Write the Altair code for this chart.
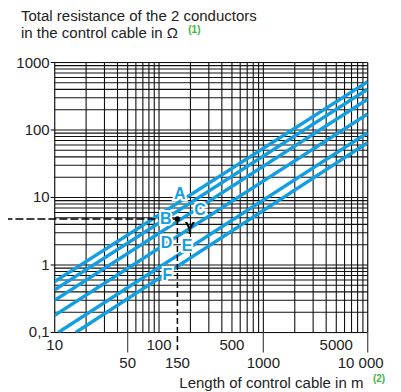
import altair as alt
import pandas as pd

# ---------------- data ----------------
curve_names = ["A", "B", "C", "D", "E", "F"]
start_length_m = [10, 10, 10, 10, 10.8, 15.9]
start_res_ohm = [0.57, 0.43, 0.30, 0.18, 0.1, 0.1]
end_length_m = [10000, 10000, 10000, 10000, 10000, 10000]
end_res_ohm = [520, 401, 285, 173, 91, 65]

label_length_m = [158, 116, 247, 118, 186, 120]
label_res_ohm = [11.3, 4.8, 6.5, 2.1, 1.92, 0.71]

point_length_m = [150]
point_res_ohm = [4.8]
point_name = ["Y"]
point_label_length_m = [197]
point_label_res_ohm = [3.4]

grid_x = [10, 20, 30, 40, 50, 60, 70, 80, 90,
          100, 200, 300, 400, 500, 600, 700, 800, 900,
          1000, 2000, 3000, 4000, 5000, 6000, 7000, 8000, 9000, 10000]
grid_y = [0.1, 0.2, 0.3, 0.4, 0.5, 0.6, 0.7, 0.8, 0.9,
          1, 2, 3, 4, 5, 6, 7, 8, 9,
          10, 20, 30, 40, 50, 60, 70, 80, 90,
          100, 200, 300, 400, 500, 600, 700, 800, 900, 1000]

x_row1_values = [10, 100, 500, 5000]
x_row1_labels = ["10", "100", "500", "5000"]
x_row2_values = [50, 150, 1000]
x_row2_labels = ["50", "150", "1000"]
x_last_value = [10000]
x_last_label = ["10 000"]
long_tick_values = [50, 1000, 10000]

y_tick_values = [0.1, 1, 10, 100, 1000]
y_tick_labels = ["0,1", "1", "10", "100", "1000"]

# ---------------- styling ----------------
W, H = 313, 270
BLUE = "#129fe1"
GREEN = "#3db53d"
TXT = "#222222"
FONT = "Liberation Sans"

xs = alt.Scale(type="log", domain=[10, 10000], nice=False)
ys = alt.Scale(type="log", domain=[0.1, 1000], nice=False)

rows = []
for n, l0, r0, l1, r1 in zip(curve_names, start_length_m, start_res_ohm, end_length_m, end_res_ohm):
    rows.append({"name": n, "L": l0, "R": r0, "o": 0})
    rows.append({"name": n, "L": l1, "R": r1, "o": 1})
lines_df = pd.DataFrame(rows)
labels_df = pd.DataFrame({"name": curve_names, "L": label_length_m, "R": label_res_ohm})
point_df = pd.DataFrame({"name": point_name, "L": point_length_m, "R": point_res_ohm})
point_lab_df = pd.DataFrame({"name": point_name, "L": point_label_length_m, "R": point_label_res_ohm})


def X(f="L"):
    return alt.X(f + ":Q", scale=xs, axis=None)


def Y(f="R"):
    return alt.Y(f + ":Q", scale=ys, axis=None)


vgrid = alt.Chart(pd.DataFrame({"L": grid_x})).mark_rule(color="#111111", strokeWidth=1.1).encode(
    x=X(), y=alt.value(0), y2=alt.value(H))
hgrid = alt.Chart(pd.DataFrame({"R": grid_y})).mark_rule(color="#111111", strokeWidth=1.1).encode(
    y=Y(), x=alt.value(0), x2=alt.value(W))

ytick_df = pd.DataFrame({"R": y_tick_values, "t": y_tick_labels})
yticks = alt.Chart(ytick_df).mark_rule(color="black", strokeWidth=1).encode(
    y=Y(), x=alt.value(-4), x2=alt.value(0))
ylabels = alt.Chart(ytick_df).mark_text(align="right", baseline="middle", font=FONT,
                                         fontSize=15, color=TXT, dx=-5).encode(
    y=Y(), x=alt.value(0), text="t:N")

xrow1 = alt.Chart(pd.DataFrame({"L": x_row1_values, "t": x_row1_labels})).mark_text(
    align="center", baseline="middle", font=FONT, fontSize=15, color=TXT).encode(
    x=X(), y=alt.value(282.5), text="t:N")
xrow2 = alt.Chart(pd.DataFrame({"L": x_row2_values, "t": x_row2_labels})).mark_text(
    align="center", baseline="middle", font=FONT, fontSize=15, color=TXT).encode(
    x=X(), y=alt.value(300.8), text="t:N")
xlast = alt.Chart(pd.DataFrame({"L": x_last_value, "t": x_last_label})).mark_text(
    align="center", baseline="middle", font=FONT, fontSize=15, color=TXT, dx=-7).encode(
    x=X(), y=alt.value(300.8), text="t:N")
longticks = alt.Chart(pd.DataFrame({"L": long_tick_values})).mark_rule(color="#555555", strokeWidth=1.3).encode(
    x=X(), y=alt.value(H), y2=alt.value(H + 20))

curves = alt.Chart(lines_df).mark_line(color=BLUE, strokeWidth=3.4, strokeCap="butt", clip=True).encode(
    x=X(), y=Y(), detail="name:N", order="o:Q")

hdash = alt.Chart(point_df).mark_rule(color="black", strokeWidth=1.5, strokeDash=[8, 3]).encode(
    x=X(), x2=alt.value(-52.7), y=Y())
vdash = alt.Chart(point_df).mark_rule(color="black", strokeWidth=1.5, strokeDash=[6, 3]).encode(
    x=X(), y=Y(), y2=alt.value(287.5))
pt = alt.Chart(point_df).mark_point(filled=True, color="black", size=28, opacity=1).encode(x=X(), y=Y())

lab_halo = alt.Chart(labels_df).mark_text(font=FONT, fontSize=16, fontWeight="bold", color="white",
                                          stroke="white", strokeWidth=4, align="center",
                                          baseline="middle").encode(x=X(), y=Y(), text="name:N")
lab = alt.Chart(labels_df).mark_text(font=FONT, fontSize=16, fontWeight="bold", color=BLUE,
                                     align="center", baseline="middle").encode(x=X(), y=Y(), text="name:N")
ylab = alt.Chart(point_lab_df).mark_text(font=FONT, fontSize=16, fontWeight="bold", color="black",
                                         align="center", baseline="middle").encode(x=X(), y=Y(), text="name:N")


def free_text(t, x, y, size=15, color=TXT, weight="normal", align="left"):
    return alt.Chart(pd.DataFrame({"t": [t]})).mark_text(
        font=FONT, fontSize=size, color=color, fontWeight=weight, align=align,
        baseline="alphabetic").encode(x=alt.value(x), y=alt.value(y), text="t:N")


t1 = free_text("Total resistance of the 2 conductors", -33.7, -42)
t2 = free_text("in the control cable in Ω", -33.7, -24.2)
t2s = free_text("(1)", 133.6, -29.5, size=10, color=GREEN, weight="bold")
t3 = free_text("Length of control cable in m", 124.6, 325.5)
t3s = free_text("(2)", 318.3, 320, size=10, color=GREEN, weight="bold")

chart = alt.layer(
    vgrid, hgrid, yticks, longticks, curves, hdash, vdash, pt,
    lab_halo, lab, ylab, ylabels, xrow1, xrow2, xlast, t1, t2, t2s, t3, t3s
).properties(
    width=W, height=H,
    padding={"left": 46.7, "top": 54.5, "right": 25, "bottom": 59},
    autosize=alt.AutoSizeParams(type="none")
).configure_view(stroke=None).configure(background="white")

chart.save("out.html", embed_options={"renderer": "svg", "actions": False})
